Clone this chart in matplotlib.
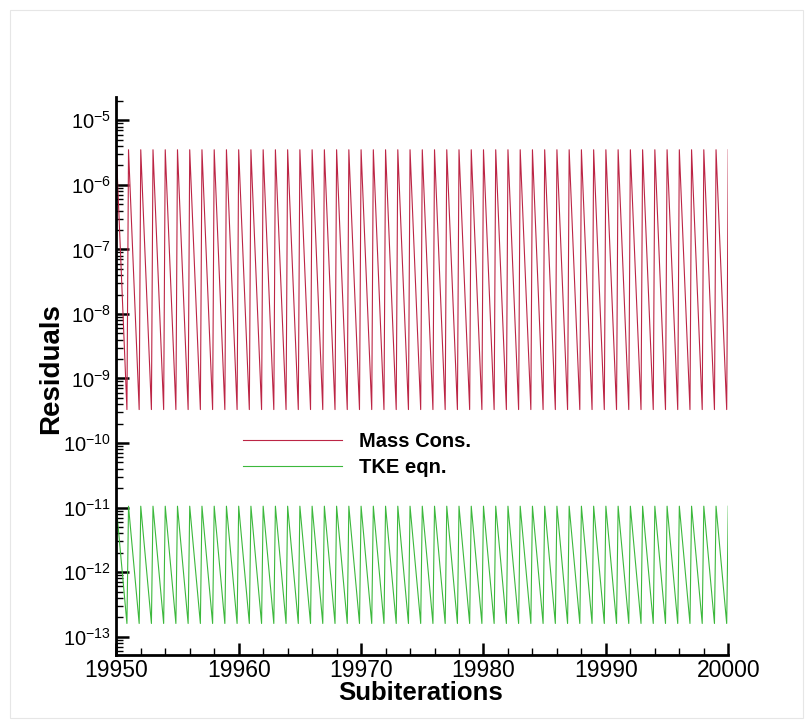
import numpy as np
import matplotlib
matplotlib.use("Agg")
import matplotlib.pyplot as plt
from matplotlib.ticker import FixedLocator, LogLocator, FuncFormatter, NullFormatter
from matplotlib.patches import Rectangle

plt.rcParams["font.family"] = ["Liberation Sans", "DejaVu Sans"]
plt.rcParams["mathtext.fontset"] = "custom"
plt.rcParams["mathtext.rm"] = "Liberation Sans"

# Time steps: each one restarts the inner (sub)iteration loop
time_steps = np.arange(19950, 20001)
# Fraction of a step at which the inner loop has converged to its floor
floor_offset = 0.87

# Residual level at the start of each step and at the end of the inner loop
mass_peak, mass_floor = 3.5e-6, 3.3e-10
tke_peak, tke_floor = 1.05e-11, 1.6e-13

x_ticks = [19950, 19960, 19970, 19980, 19990, 20000]
y_decades = [1e-13, 1e-12, 1e-11, 1e-10, 1e-9, 1e-8, 1e-7, 1e-6, 1e-5]

series_labels = ["Mass Cons.", "TKE eqn."]
series_colors = ["#bc2545", "#3cb83c"]


def sawtooth(peak, floor):
    xs, ys = [], []
    for i, t in enumerate(time_steps):
        xs.append(t)
        ys.append(peak)
        if i < len(time_steps) - 1:
            xs.append(t + floor_offset)
            ys.append(floor)
    return np.array(xs, float), np.array(ys, float)


fig = plt.figure(figsize=(8.12, 7.28), dpi=100)
ax = fig.add_axes([0.1432, 0.1003, 0.7537, 0.7665])

for (pk, fl), lab, col in zip([(mass_peak, mass_floor), (tke_peak, tke_floor)],
                              series_labels, series_colors):
    x, y = sawtooth(pk, fl)
    ax.plot(x, y, color=col, lw=0.8, label=lab)

ax.set_yscale("log")
ax.set_xlim(19950, 20000)
ax.set_ylim(5.2e-14, 2.3e-5)

ax.xaxis.set_major_locator(FixedLocator(x_ticks))
ax.xaxis.set_minor_locator(FixedLocator(np.arange(19950, 20001, 2)))
ax.yaxis.set_major_locator(FixedLocator(y_decades))
ax.yaxis.set_minor_locator(LogLocator(base=10, subs=np.arange(2, 10), numticks=50))
ax.yaxis.set_minor_formatter(NullFormatter())


def decade_label(v, pos):
    e = int(round(np.log10(v)))
    return r"$\mathregular{10^{%d}}$" % e


ax.yaxis.set_major_formatter(FuncFormatter(decade_label))
ax.xaxis.set_major_formatter(FuncFormatter(lambda v, p: "%d" % v))

for s in ["top", "right"]:
    ax.spines[s].set_visible(False)
for s in ["left", "bottom"]:
    ax.spines[s].set_linewidth(2.0)

ax.tick_params(axis="both", which="major", direction="in", length=9, width=1.8,
               color="black")
ax.tick_params(axis="both", which="minor", direction="in", length=5, width=1.0,
               color="black")
ax.tick_params(axis="x", which="major", labelsize=16.5, pad=3)
ax.tick_params(axis="y", which="major", labelsize=14.5, pad=4)

ax.set_xlabel("Subiterations", fontsize=18.5, fontweight="bold")
ax.xaxis.set_label_coords(0.498, -0.047)
ax.set_ylabel("Residuals", fontsize=20, fontweight="bold", va="center")
ax.yaxis.set_label_coords(-0.107, 0.513)

leg = ax.legend(loc="center left", bbox_to_anchor=(0.207, 0.359), frameon=False,
                handlelength=4.9, handletextpad=0.85, labelspacing=0.38,
                borderpad=0, borderaxespad=0,
                prop={"size": 14.5, "weight": "bold"})
for h in leg.get_lines():
    h.set_linewidth(0.8)

fig.patches.append(Rectangle((10 / 812, 10 / 728), 793 / 812, 708 / 728,
                             transform=fig.transFigure, fill=False,
                             edgecolor="#e6e6e6", lw=0.8))

fig.savefig("out.png", dpi=100)
